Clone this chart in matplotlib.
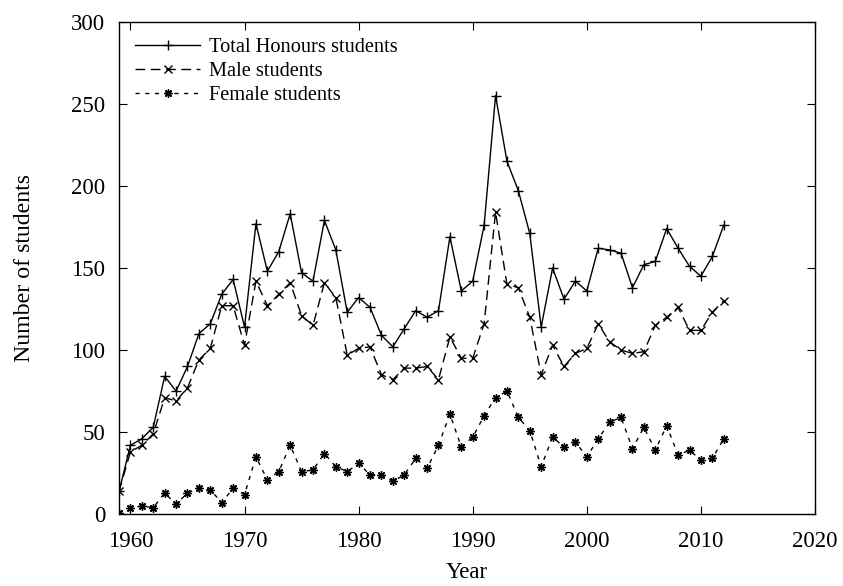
import matplotlib
matplotlib.use("Agg")
import matplotlib.pyplot as plt

years = list(range(1959, 2013))

total = [14, 42, 46, 53, 84, 75, 90, 110, 116, 134,
         143, 114, 177, 148, 160, 183, 147, 142, 179, 161,
         123, 132, 126, 109, 102, 113, 124, 120, 124, 169,
         136, 142, 176, 255, 215, 197, 171, 114, 150, 131,
         142, 136, 162, 161, 159, 138, 152, 154, 174, 162,
         151, 145, 157, 176]

male = [14, 38, 42, 49, 71, 69, 77, 94, 101, 127,
        127, 103, 142, 127, 134, 141, 121, 115, 141, 132,
        97, 101, 102, 85, 82, 89, 89, 90, 82, 108,
        95, 95, 116, 184, 140, 138, 120, 85, 103, 90,
        98, 101, 116, 105, 100, 98, 99, 115, 120, 126,
        112, 112, 123, 130]

female = [1, 4, 5, 4, 13, 6, 13, 16, 15, 7,
          16, 12, 35, 21, 26, 42, 26, 27, 37, 29,
          26, 31, 24, 24, 20, 24, 34, 28, 42, 61,
          41, 47, 60, 71, 75, 59, 51, 29, 47, 41,
          44, 35, 46, 56, 59, 40, 53, 39, 54, 36,
          39, 33, 34, 46]

plt.rcParams['font.family'] = ['Liberation Serif', 'DejaVu Serif']

fig = plt.figure(figsize=(8.43, 5.86), dpi=100)
ax = fig.add_axes([0.1412, 0.1224, 0.8256, 0.8406])

ax.plot(years, total, color='black', lw=1.0, marker='+', ms=6.5, mew=1.0,
        label='Total Honours students')
ax.plot(years, male, color='black', lw=1.0, marker='x', ms=5.5, mew=1.0,
        dashes=(7, 4), label='Male students')
ax.plot(years, female, color='black', lw=1.0, marker=(8, 2, 0), ms=6, mew=1.0,
        dashes=(3, 4), label='Female students')

ax.set_xlim(1959, 2020)
ax.set_ylim(0, 300)
ax.set_xticks(range(1960, 2021, 10))
ax.set_yticks(range(0, 301, 50))
ax.tick_params(direction='in', top=True, right=True, length=6, labelsize=16.5)
ax.tick_params(axis='x', pad=12)
ax.tick_params(axis='y', pad=10)
for s in ax.spines.values():
    s.set_linewidth(1.0)

ax.set_xlabel('Year', fontsize=16.5, labelpad=7)
ax.set_ylabel('Number of students', fontsize=17.2, labelpad=26)

ax.legend(loc='upper left', frameon=False, fontsize=14.7, handlelength=3.15,
          handletextpad=0.47, labelspacing=0.22, borderaxespad=0.4,
          bbox_to_anchor=(0.0, 1.0))

fig.savefig('out.png', dpi=100)
